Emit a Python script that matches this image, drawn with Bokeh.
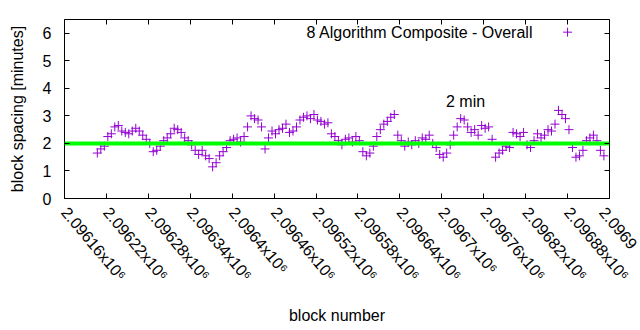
from bokeh.plotting import figure
from bokeh.models import Range1d, FixedTicker, LinearAxis, Label
from bokeh.embed import file_html
from bokeh.resources import INLINE

# ---- data ----
block_start = 2096207
block_step = 5
spacing_minutes = [
    1.65, 1.8, 1.9, 2.25, 2.35, 2.6, 2.65, 2.45, 2.4, 2.35,
    2.45, 2.55, 2.45, 2.3, 2.15, 2.0, 1.7, 1.75, 1.9, 2.1,
    2.2, 2.35, 2.55, 2.5, 2.4, 2.2, 2.1, 1.95, 1.75, 1.6,
    1.75, 1.55, 1.45, 1.15, 1.3, 1.55, 1.7, 1.85, 2.1, 2.15,
    2.2, 2.05, 2.25, 2.6, 3.0, 2.9, 2.85, 2.6, 1.8, 2.2,
    2.45, 2.35, 2.5, 2.55, 2.7, 2.4, 2.45, 2.6, 2.85, 2.95,
    3.0, 2.9, 3.05, 2.85, 2.8, 2.7, 2.75, 2.35, 2.25, 2.1,
    1.95, 2.15, 2.2, 2.05, 2.25, 2.1, 1.7, 1.55, 1.65, 1.9,
    2.25, 2.5, 2.7, 2.8, 2.95, 3.05, 2.3, 2.1, 1.9, 2.05,
    1.95, 2.1, 2.0, 2.2, 2.15, 2.3, 2.0, 1.85, 1.6, 1.5,
    1.65, 1.95, 2.3, 2.6, 2.9, 2.85, 2.6, 2.4, 2.5, 2.3,
    2.65, 2.55, 2.6, 2.15, 1.5, 1.65, 1.75, 1.9, 1.85, 2.4,
    2.35, 2.25, 2.4, 1.95, 1.85, 2.1, 2.35, 2.2, 2.3, 2.5,
    2.45, 2.7, 3.2, 3.05, 2.9, 2.5, 1.85, 1.5, 1.55, 1.75,
    2.1, 2.2, 2.3, 2.1, 1.75, 1.55,
]
block_numbers = [block_start + block_step * i for i in range(len(spacing_minutes))]

target_minutes = 2
x_ticks = [2096160, 2096220, 2096280, 2096340, 2096400, 2096460, 2096520,
           2096580, 2096640, 2096700, 2096760, 2096820, 2096880, 2096940]
x_tick_labels = ["2.09616", "2.09622", "2.09628", "2.09634", "2.0964", "2.09646",
                 "2.09652", "2.09658", "2.09664", "2.0967", "2.09676", "2.09682",
                 "2.09688", "2.09694"]
y_ticks = [0, 1, 2, 3, 4, 5, 6]
series_name = "8 Algorithm Composite - Overall"
annotation_text = "2 min"

FONT = "Liberation Sans"
FS = "16px"
PURPLE = "#9400d3"
SUFFIX = "x10\u2076"
ANGLE = -0.87

x0, x1 = 2096160, 2096940
p = figure(width=640, height=330, output_backend="svg", toolbar_location=None,
           x_range=Range1d(x0, x1), y_range=Range1d(0, 6.5),
           min_border_left=64, min_border_right=31, min_border_top=19,
           min_border_bottom=132)
p.grid.visible = False
p.outline_line_color = "black"
p.outline_line_width = 1
p.background_fill_color = "white"
p.border_fill_color = "white"

# points
p.scatter(block_numbers, spacing_minutes, marker="cross", size=9,
          line_color=PURPLE, line_width=1)
# target line
p.line([x0, x1], [target_minutes, target_minutes], line_color="#00ff00", line_width=4)

# axes
xa = p.xaxis[0]
xa.ticker = FixedTicker(ticks=x_ticks)
overrides = {t: l + SUFFIX for t, l in zip(x_ticks, x_tick_labels)}
# the last label runs off the page in the reference; only its visible part is kept
overrides[x_ticks[-1]] = x_tick_labels[-1][:6]
xa.major_label_overrides = overrides
xa.major_label_orientation = ANGLE
xa.axis_label = "block number"
ya = p.yaxis[0]
ya.ticker = FixedTicker(ticks=y_ticks)
ya.axis_label = "block spacing [minutes]"
for ax in (xa, ya):
    ax.major_tick_in = 5
    ax.major_tick_out = 0
    ax.minor_tick_line_color = None
    ax.axis_line_color = None
    ax.major_label_text_font = FONT
    ax.major_label_text_font_size = FS
    ax.major_label_text_color = "black"
    ax.axis_label_text_font = FONT
    ax.axis_label_text_font_size = FS
    ax.axis_label_text_font_style = "normal"
    ax.axis_label_text_color = "black"
xa.major_label_standoff = 11
xa.axis_label_standoff = 15
ya.major_label_standoff = 13
ya.axis_label_standoff = 14

# mirrored ticks
ra = LinearAxis(ticker=FixedTicker(ticks=y_ticks), major_tick_in=5, major_tick_out=0,
                minor_tick_line_color=None, axis_line_color=None,
                major_label_text_font_size="0px")
ta = LinearAxis(ticker=FixedTicker(ticks=x_ticks), major_tick_in=5, major_tick_out=0,
                minor_tick_line_color=None, axis_line_color=None,
                major_label_text_font_size="0px")
p.add_layout(ra, "right")
p.add_layout(ta, "above")

# legend (gnuplot style: text then sample)
leg_y = 6.04
p.add_layout(Label(x=2096831, y=leg_y, text=series_name, text_align="right",
                   text_baseline="middle", text_font=FONT, text_font_size=FS,
                   text_color="black"))
p.scatter([2096880], [leg_y], marker="cross", size=9, line_color=PURPLE, line_width=1)

p.add_layout(Label(x=2096734, y=3.53, text=annotation_text, text_align="center",
                   text_baseline="middle", text_font=FONT, text_font_size=FS,
                   text_color="black"))

open("out.html", "w").write(file_html(p, INLINE))
